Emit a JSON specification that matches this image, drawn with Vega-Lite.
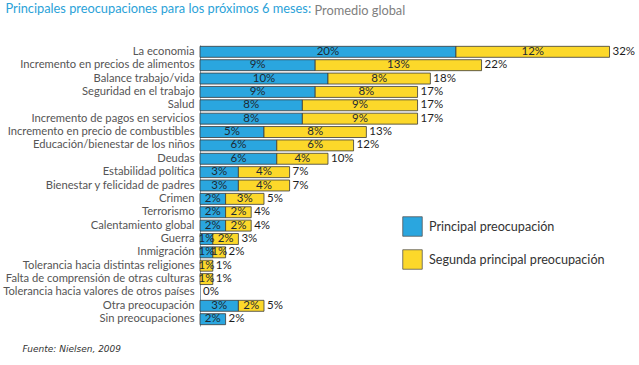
{
  "$schema": "https://vega.github.io/schema/vega-lite/v6.json",
  "background": "white",
  "padding": {"left": 2, "top": 3, "right": 0, "bottom": 0},
  "title": {
    "text": "Principales preocupaciones para los próximos 6 meses:",
    "color": "#2ba2d8",
    "font": "Lato",
    "fontSize": 12.8,
    "fontWeight": "normal",
    "anchor": "start",
    "baseline": "top",
    "dx": 3,
    "offset": -12
  },
  "width": 430,
  "height": 281,
  "data": {
    "values": [
      {"cat": "La economia", "p": 0.20, "s": 0.12, "t": 0.32},
      {"cat": "Incremento en precios de alimentos", "p": 0.09, "s": 0.13, "t": 0.22},
      {"cat": "Balance trabajo/vida", "p": 0.10, "s": 0.08, "t": 0.18},
      {"cat": "Seguridad en el trabajo", "p": 0.09, "s": 0.08, "t": 0.17},
      {"cat": "Salud", "p": 0.08, "s": 0.09, "t": 0.17},
      {"cat": "Incremento de pagos en servicios", "p": 0.08, "s": 0.09, "t": 0.17},
      {"cat": "Incremento en precio de combustibles", "p": 0.05, "s": 0.08, "t": 0.13},
      {"cat": "Educación/bienestar de los niños", "p": 0.06, "s": 0.06, "t": 0.12},
      {"cat": "Deudas", "p": 0.06, "s": 0.04, "t": 0.10},
      {"cat": "Estabilidad política", "p": 0.03, "s": 0.04, "t": 0.07},
      {"cat": "Bienestar y felicidad de padres", "p": 0.03, "s": 0.04, "t": 0.07},
      {"cat": "Crimen", "p": 0.02, "s": 0.03, "t": 0.05},
      {"cat": "Terrorismo", "p": 0.02, "s": 0.02, "t": 0.04},
      {"cat": "Calentamiento global", "p": 0.02, "s": 0.02, "t": 0.04},
      {"cat": "Guerra", "p": 0.01, "s": 0.02, "t": 0.03},
      {"cat": "Inmigración", "p": 0.01, "s": 0.01, "t": 0.02},
      {"cat": "Tolerancia hacia distintas religiones", "p": 0, "s": 0.01, "t": 0.01},
      {"cat": "Falta de comprensión de otras culturas", "p": 0, "s": 0.01, "t": 0.01},
      {"cat": "Tolerancia hacia valores de otros países", "p": 0, "s": 0, "t": 0},
      {"cat": "Otra preocupación", "p": 0.03, "s": 0.02, "t": 0.05},
      {"cat": "Sin preocupaciones", "p": 0.02, "s": 0, "t": 0.02}
    ]
  },
  "encoding": {
    "y": {
      "field": "cat",
      "type": "nominal",
      "sort": null,
      "scale": {
        "domain": [
          "La economia",
          "Incremento en precios de alimentos",
          "Balance trabajo/vida",
          "Seguridad en el trabajo",
          "Salud",
          "Incremento de pagos en servicios",
          "Incremento en precio de combustibles",
          "Educación/bienestar de los niños",
          "Deudas",
          "Estabilidad política",
          "Bienestar y felicidad de padres",
          "Crimen",
          "Terrorismo",
          "Calentamiento global",
          "Guerra",
          "Inmigración",
          "Tolerancia hacia distintas religiones",
          "Falta de comprensión de otras culturas",
          "Tolerancia hacia valores de otros países",
          "Otra preocupación",
          "Sin preocupaciones"
        ],
        "paddingInner": 0.18,
        "paddingOuter": 0.1
      },
      "axis": {
        "title": "Promedio global",
        "titleColor": "#808080",
        "titleFont": "Lato",
        "titleFontSize": 12.8,
        "titleFontWeight": "normal",
        "titleAngle": 0,
        "titleAlign": "left",
        "titleBaseline": "top",
        "titleX": 114,
        "titleY": -41,
        "ticks": false,
        "labelPadding": 6,
        "labelFont": "Lato",
        "labelFontSize": 11.2,
        "labelColor": "#555555",
        "domainColor": "#8a9aa8",
        "labelLimit": 300
      }
    }
  },
  "layer": [
    {
      "transform": [
        {"fold": ["p", "s"], "as": ["serie", "value"]},
        {"filter": "datum.value > 0"}
      ],
      "mark": {"type": "bar", "stroke": "#3a3a3a", "strokeWidth": 0.8},
      "encoding": {
        "x": {
          "field": "value",
          "type": "quantitative",
          "stack": "zero",
          "scale": {"domain": [0, 0.336], "nice": false},
          "axis": {
            "labels": false,
            "ticks": false,
            "domain": false,
            "grid": false,
            "title": "Fuente: Nielsen, 2009",
            "titleFont": "DejaVu Sans",
            "titleFontStyle": "italic",
            "titleFontWeight": "normal",
            "titleFontSize": 9,
            "titleColor": "#333333",
            "titleAnchor": "start",
            "titleAlign": "left",
            "titleBaseline": "top",
            "titleX": -178,
            "titleY": 18
          }
        },
        "order": {"field": "serie"},
        "color": {
          "field": "serie",
          "type": "nominal",
          "scale": {"domain": ["p", "s"], "range": ["#2aa6df", "#fcd82a"]},
          "legend": {
            "title": null,
            "orient": "none",
            "legendX": 202,
            "legendY": 171,
            "symbolType": "square",
            "symbolSize": 380,
            "symbolStrokeColor": "#555555",
            "symbolStrokeWidth": 0.8,
            "symbolOpacity": 1,
            "labelFont": "Lato",
            "labelFontSize": 12.6,
            "labelColor": "#333333",
            "labelOffset": 6,
            "labelLimit": 260,
            "rowPadding": 10,
            "labelExpr": "datum.label == 'p' ? 'Principal preocupación' : 'Segunda principal preocupación'"
          }
        }
      }
    },
    {
      "transform": [
        {"fold": ["p", "s"], "as": ["serie", "value"]},
        {"filter": "datum.value > 0"}
      ],
      "mark": {"type": "text", "font": "Lato", "fontSize": 11.5, "color": "#1e2a33", "baseline": "middle"},
      "encoding": {
        "x": {"field": "value", "type": "quantitative", "stack": "zero", "bandPosition": 0.5},
        "order": {"field": "serie"},
        "detail": {"field": "serie"},
        "text": {"field": "value", "type": "quantitative", "format": ".0%"}
      }
    },
    {
      "mark": {"type": "text", "font": "Lato", "fontSize": 11.5, "color": "#1e1e1e", "align": "left", "dx": 3, "baseline": "middle"},
      "encoding": {
        "x": {"field": "t", "type": "quantitative"},
        "text": {"field": "t", "type": "quantitative", "format": ".0%"}
      }
    }
  ],
  "config": {
    "view": {"stroke": null}
  }
}
